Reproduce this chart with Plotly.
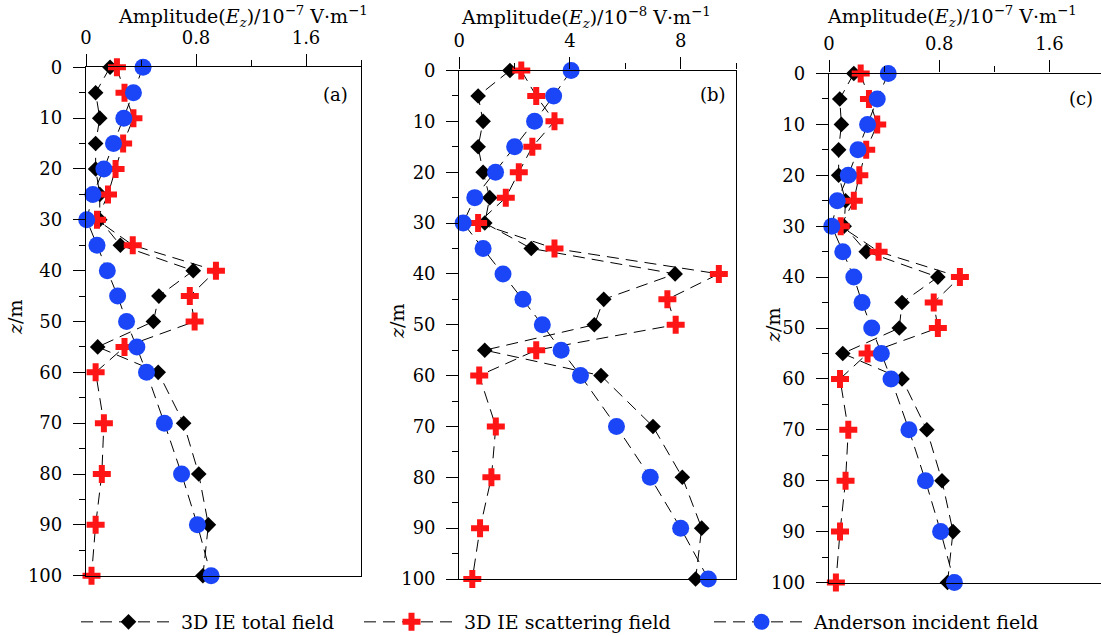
import plotly.graph_objects as go

W, H = 1101, 637

# depth (m)
depth = [0, 5, 10, 15, 20, 25, 30, 35, 40, 45, 50, 55, 60, 70, 80, 90, 100]

# panel (a)  units 1e-7 V/m
total_a = [0.175, 0.07, 0.10, 0.07, 0.07, 0.10, 0.10, 0.25, 0.78, 0.53, 0.49, 0.085, 0.525, 0.71, 0.82, 0.89, 0.85]
scat_a = [0.225, 0.28, 0.345, 0.27, 0.215, 0.16, 0.08, 0.34, 0.945, 0.755, 0.79, 0.28, 0.07, 0.13, 0.115, 0.07, 0.04]
inc_a = [0.415, 0.345, 0.275, 0.20, 0.13, 0.05, 0.005, 0.08, 0.155, 0.23, 0.295, 0.37, 0.44, 0.57, 0.695, 0.81, 0.91]

# panel (b)  units 1e-8 V/m
total_b = [1.83, 0.68, 0.86, 0.68, 0.86, 1.10, 0.92, 2.60, 7.80, 5.22, 4.88, 0.92, 5.12, 7.00, 8.06, 8.76, 8.54]
scat_b = [2.24, 2.78, 3.44, 2.64, 2.15, 1.68, 0.68, 3.44, 9.38, 7.52, 7.82, 2.78, 0.72, 1.32, 1.16, 0.75, 0.47]
inc_b = [4.04, 3.41, 2.72, 2.00, 1.31, 0.56, 0.14, 0.86, 1.58, 2.30, 3.00, 3.68, 4.38, 5.68, 6.90, 8.00, 9.00]

# panel (c)  units 1e-7 V/m
total_c = [0.18, 0.078, 0.09, 0.07, 0.07, 0.12, 0.11, 0.27, 0.79, 0.53, 0.51, 0.10, 0.53, 0.71, 0.82, 0.90, 0.86]
scat_c = [0.23, 0.29, 0.35, 0.27, 0.22, 0.18, 0.085, 0.36, 0.95, 0.76, 0.79, 0.28, 0.08, 0.14, 0.12, 0.08, 0.05]
inc_c = [0.43, 0.35, 0.28, 0.21, 0.14, 0.06, 0.02, 0.10, 0.18, 0.24, 0.31, 0.38, 0.45, 0.58, 0.70, 0.81, 0.91]

series_names = ["3D IE total field", "3D IE scattering field", "Anderson incident field"]
panel_labels = ["(a)", "(b)", "(c)"]
x_titles = [
    "Amplitude(<i>E</i><sub><i>z</i></sub>)/10<sup>−7</sup> V·m<sup>−1</sup>",
    "Amplitude(<i>E</i><sub><i>z</i></sub>)/10<sup>−8</sup> V·m<sup>−1</sup>",
    "Amplitude(<i>E</i><sub><i>z</i></sub>)/10<sup>−7</sup> V·m<sup>−1</sup>",
]
x_ticks = [[0, 0.8, 1.6], [0, 4, 8], [0, 0.8, 1.6]]
x_tick_text = [["0", "0.8", "1.6"], ["0", "4", "8"], ["0", "0.8", "1.6"]]
y_ticks = [0, 10, 20, 30, 40, 50, 60, 70, 80, 90, 100]

FONT = "DejaVu Serif"
TICK_SIZE = 18
TITLE_SIZE = 19
LEG_SIZE = 19
BLUE = "#1a46f7"
RED = "#ff1515"

styles = [
    dict(symbol="diamond", size=12, color="black"),
    dict(symbol="cross", size=15, color=RED),
    dict(symbol="circle", size=17, color=BLUE),
]
legend_ids = ["legend", "legend2", "legend3"]
legend_x_px = [76, 359, 709]

panels = [
    (total_a, scat_a, inc_a),
    (total_b, scat_b, inc_b),
    (total_c, scat_c, inc_c),
]

# pixel geometry of each panel: (left, right, top, bottom)
geom = [
    (86, 361, 67.3, 575.7),
    (459.3, 736, 70.5, 579),
    (829, 1101, 73.5, 582.5),
]
x_ranges = [[0, 2.0], [0, 10], [0, (1101 - 829) / 137.8]]
x_minor = [0.4, 2, 0.4]

fig = go.Figure()

for p, series in enumerate(panels):
    xa = "x" if p == 0 else f"x{p+1}"
    ya = "y" if p == 0 else f"y{p+1}"
    for s, vals in enumerate(series):
        st = styles[s]
        fig.add_trace(go.Scatter(
            x=vals, y=depth, xaxis=xa, yaxis=ya,
            mode="lines+markers",
            name=series_names[s],
            showlegend=(p == 0),
            legend=legend_ids[s],
            cliponaxis=False,
            line=dict(color="black", width=1, dash="12px,7px"),
            marker=dict(symbol=st["symbol"], size=st["size"], color=st["color"],
                        line=dict(width=0)),
        ))

layout = dict(
    width=W, height=H,
    margin=dict(l=0, r=0, t=0, b=0, pad=0, autoexpand=False),
    paper_bgcolor="white", plot_bgcolor="white",
    font=dict(family=FONT, size=TICK_SIZE, color="black"),
    showlegend=True,
)
for s in range(3):
    layout[legend_ids[s]] = dict(
        orientation="h", x=legend_x_px[s] / W, y=1 - 622 / H, xanchor="left", yanchor="middle",
        font=dict(family=FONT, size=LEG_SIZE, color="black"),
        itemwidth=95, bgcolor="rgba(0,0,0,0)",
    )

annotations = []
for p in range(3):
    l, r, t, b = geom[p]
    xkey = "xaxis" if p == 0 else f"xaxis{p+1}"
    ykey = "yaxis" if p == 0 else f"yaxis{p+1}"
    ya = "y" if p == 0 else f"y{p+1}"
    xa = "x" if p == 0 else f"x{p+1}"
    layout[xkey] = dict(
        domain=[l / W, r / W], range=x_ranges[p], anchor=ya, side="top",
        tickmode="array", tickvals=x_ticks[p], ticktext=x_tick_text[p],
        ticks="outside", ticklen=12, tickwidth=1.2, tickcolor="black",
        minor=dict(dtick=x_minor[p], tick0=0, ticks="outside",
                   ticklen=6, tickwidth=1.2, tickcolor="black", showgrid=False),
        showline=True, linecolor="black", linewidth=1.3, mirror=True,
        showgrid=False, zeroline=False, ticklabelstandoff=3, automargin=False,
        tickfont=dict(family=FONT, size=TICK_SIZE),
    )
    layout[ykey] = dict(
        domain=[1 - b / H, 1 - t / H], range=[100, 0], anchor=xa,
        tickmode="array", tickvals=y_ticks,
        ticks="outside", ticklen=12, tickwidth=1.2, tickcolor="black",
        minor=dict(dtick=5, tick0=5, ticks="outside", ticklen=6, tickwidth=1.2,
                   tickcolor="black", showgrid=False),
        showline=True, linecolor="black", linewidth=1.3, mirror=(p != 2),
        showgrid=False, zeroline=False, ticklabelstandoff=7, automargin=False,
        tickfont=dict(family=FONT, size=TICK_SIZE),
    )

title_pos = [(243, 17), (586, 18), (952, 17)]
zm_pos = [(15, 318), (397, 322), (773, 326)]
lab_pos = [(335, 95), (713, 95), (1081, 98)]
for p in range(3):
    tx, ty = title_pos[p]
    annotations.append(dict(x=tx / W, y=1 - ty / H, xref="paper", yref="paper",
                            text=x_titles[p], showarrow=False, xanchor="center", yanchor="middle",
                            font=dict(family=FONT, size=TITLE_SIZE)))
    zx, zy = zm_pos[p]
    annotations.append(dict(x=zx / W, y=1 - zy / H, xref="paper", yref="paper",
                            text="<i>z</i>/m", textangle=-90, showarrow=False,
                            xanchor="center", yanchor="middle", font=dict(family=FONT, size=TITLE_SIZE)))
    lx, ly = lab_pos[p]
    annotations.append(dict(x=lx / W, y=1 - ly / H, xref="paper", yref="paper",
                            text=panel_labels[p], showarrow=False, xanchor="center", yanchor="middle",
                            font=dict(family=FONT, size=TICK_SIZE)))
layout["annotations"] = annotations

fig.update_layout(**layout)
fig.write_html(
    "out.html",
    config={"displayModeBar": False},
    post_script="document.body.style.margin='0';document.body.style.overflow='hidden';",
)
